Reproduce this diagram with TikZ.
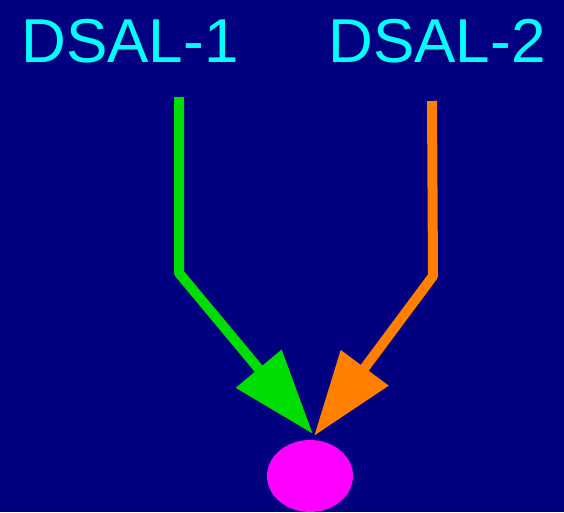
\documentclass[tikz,border=0pt]{standalone}
\usepackage{fontspec}
\setmainfont{Liberation Sans}
\usetikzlibrary{arrows.meta,shapes.geometric}
\definecolor{navybg}{RGB}{0,0,128}
\definecolor{labelcyan}{RGB}{0,255,255}
\definecolor{pathgreen}{RGB}{0,221,0}
\definecolor{pathorange}{RGB}{255,128,0}
\definecolor{blobmagenta}{RGB}{255,0,255}
\begin{document}
\begin{tikzpicture}[x=1pt,y=-1pt,
  label/.style={text=labelcyan,font=\fontsize{62}{66}\selectfont,anchor=base,inner sep=0pt},
  feed/.style={line width=10pt,line join=bevel,
    -{Triangle[length=85pt,width=57pt]}}]
  % background
  \fill[navybg] (0,0) rectangle (564,512);
  \useasboundingbox (0,0) rectangle (564,512);
  % labels
  \node[label] (lbl1) at (130,62) {DSAL-1};
  \node[label] (lbl2) at (437,62) {DSAL-2};
  % target blob
  \node[fill=blobmagenta,ellipse,minimum width=86pt,minimum height=72pt,inner sep=0pt] (target) at (310,476) {};
  % path waypoints
  \coordinate (s1) at (179,97);
  \coordinate (b1) at (179,273);
  \coordinate (t1) at (313,434);
  \coordinate (s2) at (432,101);
  \coordinate (b2) at (433,276);
  \coordinate (t2) at (314,436);
  % connectors
  \draw[feed,pathgreen] (s1) -- (b1) -- (t1);
  \draw[feed,pathorange] (s2) -- (b2) -- (t2);
\end{tikzpicture}
\end{document}
